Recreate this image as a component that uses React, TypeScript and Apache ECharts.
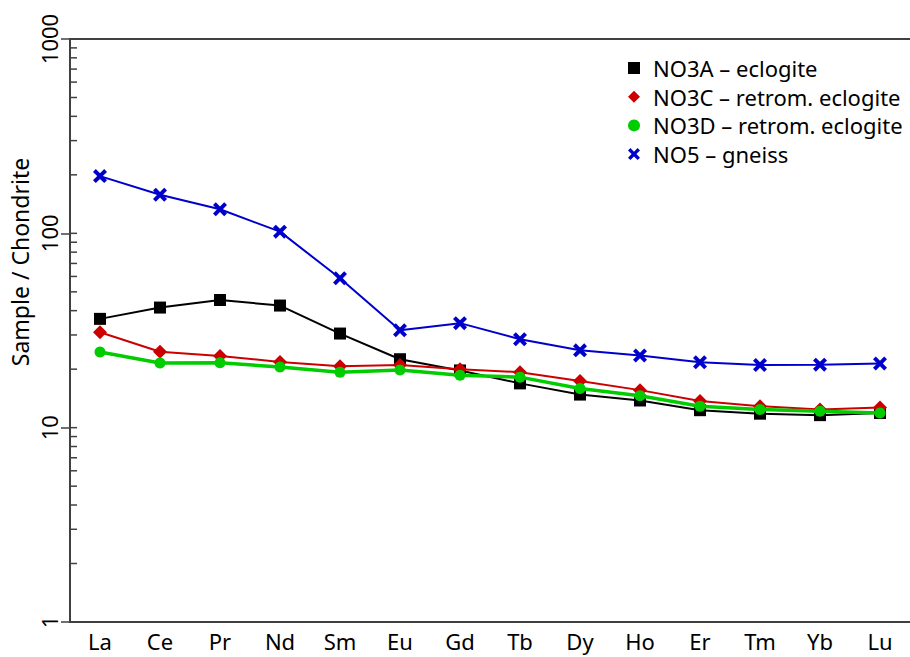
import React, { useEffect, useRef } from "react";
import * as echarts from "echarts";

const categories = ["La", "Ce", "Pr", "Nd", "Sm", "Eu", "Gd", "Tb", "Dy", "Ho", "Er", "Tm", "Yb", "Lu"];
const no3a = [36.3, 41.5, 45.4, 42.5, 30.5, 22.5, 19.7, 16.9, 14.8, 13.8, 12.3, 11.8, 11.6, 11.9];
const no3c = [31.0, 24.6, 23.4, 21.8, 20.7, 21.0, 20.0, 19.3, 17.4, 15.6, 13.7, 12.9, 12.4, 12.7];
const no3d = [24.5, 21.5, 21.6, 20.5, 19.3, 19.8, 18.6, 18.2, 15.9, 14.6, 12.9, 12.4, 12.15, 11.9];
const no5 = [197, 158, 133, 102, 58.7, 31.7, 34.5, 28.5, 25.0, 23.5, 21.7, 21.0, 21.1, 21.4];
const seriesNames = ["NO3A – eclogite", "NO3C – retrom. eclogite", "NO3D – retrom. eclogite", "NO5 – gneiss"];
const minorTickValues = [2, 3, 4, 5, 6, 7, 8, 9, 10, 20, 30, 40, 50, 60, 70, 80, 90, 100, 200, 300, 400, 500, 600, 700, 800, 900];

const CROSS = "path://M0,2L2,0L5,3L8,0L10,2L7,5L10,8L8,10L5,7L2,10L0,8L3,5Z";
const FONT = "Noto Sans";
const AXIS_COLOR = "#404040";

export default function App() {
  const ref = useRef<HTMLDivElement>(null);
  useEffect(() => {
    if (!ref.current) return;
    const chart = echarts.init(ref.current, null, { renderer: "svg" });
    chart.setOption({
      animation: false,
      textStyle: { fontFamily: FONT },
      grid: { left: 70, top: 39, bottom: 35, right: -2, containLabel: false },
      legend: {
        orient: "vertical",
        left: 623,
        top: 52,
        itemWidth: 12,
        itemHeight: 12,
        itemGap: 6.7,
        textStyle: { fontSize: 22, color: "#000", fontFamily: FONT, padding: [0, 0, 0, 8] },
        data: [
          { name: seriesNames[0], icon: "rect" },
          { name: seriesNames[1], icon: "diamond" },
          { name: seriesNames[2], icon: "circle" },
          { name: seriesNames[3], icon: CROSS },
        ],
      },
      xAxis: [
        {
          type: "category",
          data: categories,
          boundaryGap: true,
          axisLine: { lineStyle: { color: AXIS_COLOR, width: 2 } },
          axisTick: { alignWithLabel: true, length: 7, lineStyle: { color: AXIS_COLOR, width: 1.5 } },
          axisLabel: { fontSize: 22, color: "#000", margin: 8, fontFamily: FONT, interval: 0 },
        },
        {
          type: "category",
          data: categories,
          position: "top",
          axisLine: { lineStyle: { color: AXIS_COLOR, width: 2 } },
          axisTick: { show: false },
          axisLabel: { show: false },
        },
      ],
      yAxis: {
        type: "log",
        logBase: 10,
        min: 1,
        max: 1000,
        axisLine: { show: true, lineStyle: { color: AXIS_COLOR, width: 2 } },
        axisTick: { show: true, length: 9, lineStyle: { color: AXIS_COLOR, width: 1.5 } },
        axisLabel: {
          rotate: 90,
          fontSize: 22,
          color: "#000",
          margin: 10,
          fontFamily: FONT,
          formatter: (v: number) => String(Math.round(v)),
        },
        splitLine: { show: false },
        minorTick: { show: false },
      },
      graphic: [
        {
          type: "text",
          x: 20,
          y: 262,
          rotation: Math.PI / 2,
          style: {
            text: "Sample / Chondrite",
            fontSize: 23,
            fontFamily: FONT,
            fill: "#000",
            align: "center",
            verticalAlign: "middle",
          },
        },
      ],
      series: [
        {
          type: "custom",
          silent: true,
          clip: false,
          z: 1,
          data: minorTickValues.map((v) => [0, v]),
          renderItem: (params: any, api: any) => {
            const y = api.coord([0, api.value(1)])[1];
            const x0 = params.coordSys.x;
            return {
              type: "line",
              shape: { x1: x0, y1: y, x2: x0 + 7, y2: y },
              style: { stroke: AXIS_COLOR, lineWidth: 1.5 },
            };
          },
        },
        {
          name: seriesNames[0],
          type: "line",
          data: no3a,
          symbol: "rect",
          symbolSize: 12,
          lineStyle: { color: "#000000", width: 2 },
          itemStyle: { color: "#000000" },
          z: 3,
        },
        {
          name: seriesNames[1],
          type: "line",
          data: no3c,
          symbol: "diamond",
          symbolSize: 14,
          lineStyle: { color: "#cc0000", width: 2 },
          itemStyle: { color: "#cc0000" },
          z: 4,
        },
        {
          name: seriesNames[2],
          type: "line",
          data: no3d,
          symbol: "circle",
          symbolSize: 11,
          lineStyle: { color: "#00cc00", width: 3.5 },
          itemStyle: { color: "#00cc00" },
          z: 5,
        },
        {
          name: seriesNames[3],
          type: "line",
          data: no5,
          symbol: CROSS,
          symbolSize: 14,
          lineStyle: { color: "#0000cc", width: 2 },
          itemStyle: { color: "#0000cc" },
          z: 6,
        },
      ],
    });
    return () => chart.dispose();
  }, []);
  return <div ref={ref} style={{ width: 910, height: 657, position: "absolute", left: 0, top: 0 }} />;
}
